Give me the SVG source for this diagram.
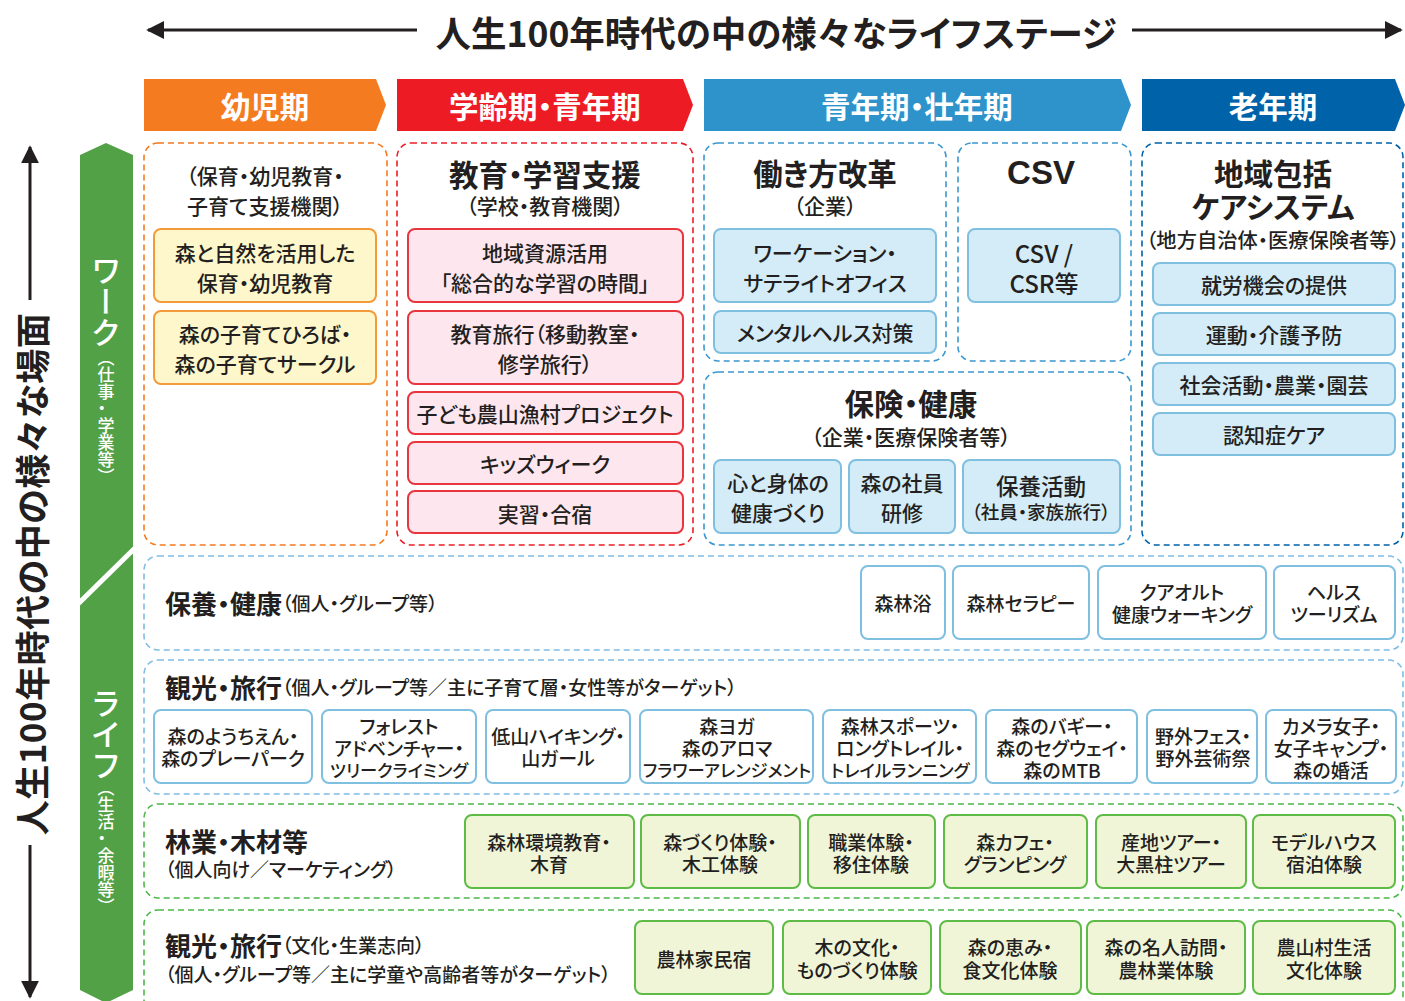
<svg xmlns="http://www.w3.org/2000/svg" width="1405" height="1001" viewBox="0 0 1405 1001">
<style>
text{font-family:"Noto Sans CJK JP","Noto Sans",sans-serif;fill:#231F20;font-feature-settings:"palt";dominant-baseline:central;font-weight:500}
.c{text-anchor:middle}
.b{font-weight:bold}
.w{fill:#fff}
.s21{font-size:21px}
.s19{font-size:19px}
.s26{font-size:26px}
.s29{font-size:29.5px}
.pan{fill:#fff;stroke-width:1.6;stroke-dasharray:6 4}
.po{stroke:#F47B20}
.pr{stroke:#ED1C24}
.pb{stroke:#3A97CF}
.pd{stroke:#0062A8}
.pl{stroke:#7DBDE3}
.pg{stroke:#4CB848}
.bo{fill:#FFF7CC;stroke:#F39A3B;stroke-width:2}
.br{fill:#FDE6EE;stroke:#E8353E;stroke-width:2}
.bb{fill:#D4ECF7;stroke:#7FBFE0;stroke-width:2}
.bw{fill:#fff;stroke:#7FBFE0;stroke-width:2}
.bg{fill:#F1F5D8;stroke:#5DBB46;stroke-width:2}
</style>
<defs>
<marker id="ah" viewBox="0 0 10 10" refX="9" refY="5" markerWidth="6" markerHeight="6" orient="auto-start-reverse" markerUnits="strokeWidth">
<path d="M0,0 L10,5 L0,10 z" fill="#231F20"/>
</marker>
</defs>

<g id="connectors" stroke="#231F20" stroke-width="3" fill="none">
<line x1="417" y1="30" x2="148" y2="30" marker-end="url(#ah)"/>
<line x1="1132" y1="30" x2="1401" y2="30" marker-end="url(#ah)"/>
<line x1="30" y1="300" x2="30" y2="147" marker-end="url(#ah)"/>
<line x1="30" y1="845" x2="30" y2="997" marker-end="url(#ah)"/>
</g>

<g id="title">
<text x="776" y="31" class="c b" style="font-size:35.5px">人生100年時代の中の様々なライフステージ</text>
<text transform="translate(30,574) rotate(-90)" class="c b" style="font-size:35px;letter-spacing:0.5px">人生100年時代の中の様々な場面</text>
</g>

<g id="stage-headers">
<g id="h1"><polygon points="144,79 376,79 386,105 376,131 144,131" fill="#F47B20"/><text x="265" y="105" class="c b w s29">幼児期</text></g>
<g id="h2"><polygon points="397,79 683,79 693,105 683,131 397,131" fill="#ED1C24"/><text x="545" y="105" class="c b w s29">学齢期・青年期</text></g>
<g id="h3"><polygon points="704,79 1121,79 1131,105 1121,131 704,131" fill="#2E93CB"/><text x="917" y="105" class="c b w s29">青年期・壮年期</text></g>
<g id="h4"><polygon points="1142,79 1395,79 1405,105 1395,131 1142,131" fill="#0062A8"/><text x="1273" y="105" class="c b w s29">老年期</text></g>
</g>

<g id="side-bar">
<polygon points="80,155 106,143 133,155 133,990 106,1003 80,990" fill="#52A146"/>
<line x1="78" y1="604" x2="135" y2="548" stroke="#fff" stroke-width="5"/>
<text x="106" y="255" class="w" style="font-size:31px;writing-mode:vertical-rl;dominant-baseline:auto">ワーク</text>
<text x="106" y="349" class="w" style="font-size:17px;writing-mode:vertical-rl;dominant-baseline:auto">（仕事・学業等）</text>
<text x="106" y="688" class="w" style="font-size:31px;writing-mode:vertical-rl;dominant-baseline:auto">ライフ</text>
<text x="106" y="779" class="w" style="font-size:17px;writing-mode:vertical-rl;dominant-baseline:auto">（生活・余暇等）</text>
</g>

<g id="p-youji">
<rect x="144" y="143" width="243" height="402" rx="14" class="pan po"/>
<text x="265" y="175" class="c s21">（保育・幼児教育・</text>
<text x="265" y="205" class="c s21">子育て支援機関）</text>
<rect x="154" y="229" width="222" height="73" rx="7" class="bo"/>
<text x="265" y="252" class="c s21">森と自然を活用した</text>
<text x="265" y="282" class="c s21">保育・幼児教育</text>
<rect x="154" y="311" width="222" height="73" rx="7" class="bo"/>
<text x="265" y="333" class="c s21">森の子育てひろば・</text>
<text x="265" y="363" class="c s21">森の子育てサークル</text>
</g>

<g id="p-kyoiku">
<rect x="397" y="143" width="296" height="402" rx="14" class="pan pr"/>
<text x="545" y="173" class="c b s29">教育・学習支援</text>
<text x="545" y="205" class="c s21">（学校・教育機関）</text>
<rect x="408" y="229" width="275" height="73" rx="7" class="br"/>
<text x="545" y="252" class="c s21">地域資源活用</text>
<text x="545" y="282" class="c s21">「総合的な学習の時間」</text>
<rect x="408" y="311" width="275" height="73" rx="7" class="br"/>
<text x="545" y="333" class="c s21">教育旅行（移動教室・</text>
<text x="545" y="363" class="c s21">修学旅行）</text>
<rect x="408" y="392" width="275" height="42" rx="7" class="br"/>
<text x="545" y="413" class="c s21">子ども農山漁村プロジェクト</text>
<rect x="408" y="442" width="275" height="42" rx="7" class="br"/>
<text x="545" y="463" class="c s21">キッズウィーク</text>
<rect x="408" y="491" width="275" height="42" rx="7" class="br"/>
<text x="545" y="513" class="c s21">実習・合宿</text>
</g>

<g id="p-hatarakikata">
<rect x="704" y="143" width="242" height="218" rx="14" class="pan pb"/>
<text x="825" y="172" class="c b s29">働き方改革</text>
<text x="825" y="205" class="c s21">（企業）</text>
<rect x="714" y="229" width="222" height="73" rx="7" class="bb"/>
<text x="825" y="252" class="c s21">ワーケーション・</text>
<text x="825" y="282" class="c s21">サテライトオフィス</text>
<rect x="714" y="311" width="222" height="42" rx="7" class="bb"/>
<text x="825" y="332" class="c s21">メンタルヘルス対策</text>
</g>

<g id="p-csv">
<rect x="958" y="143" width="173" height="218" rx="14" class="pan pb"/>
<text x="1041" y="172" class="c b" style="font-family:'Liberation Sans',Arial,sans-serif;font-size:33px">CSV</text>
<rect x="968" y="229" width="152" height="73" rx="7" class="bb"/>
<text x="1044" y="252" class="c" style="font-size:24px">CSV /</text>
<text x="1044" y="282" class="c" style="font-size:24px">CSR等</text>
</g>

<g id="p-hoken">
<rect x="704" y="372" width="427" height="173" rx="14" class="pan pb"/>
<text x="911" y="402" class="c b s29">保険・健康</text>
<text x="911" y="436" class="c s21">（企業・医療保険者等）</text>
<rect x="714" y="460" width="127" height="73" rx="7" class="bb"/>
<text x="778" y="482" class="c s21">心と身体の</text>
<text x="778" y="512" class="c s21">健康づくり</text>
<rect x="849" y="460" width="106" height="73" rx="7" class="bb"/>
<text x="902" y="482" class="c s21">森の社員</text>
<text x="902" y="512" class="c s21">研修</text>
<rect x="963" y="460" width="157" height="73" rx="7" class="bb"/>
<text x="1041" y="485" class="c" style="font-size:22.5px">保養活動</text>
<text x="1041" y="511" class="c" style="font-size:18.5px">（社員・家族旅行）</text>
</g>

<g id="p-chiiki">
<rect x="1142" y="143" width="261" height="402" rx="14" class="pan pd"/>
<text x="1273" y="172" class="c b s29">地域包括</text>
<text x="1273" y="205" class="c b s29">ケアシステム</text>
<text x="1273" y="239" class="c" style="font-size:20.3px">（地方自治体・医療保険者等）</text>
<rect x="1153" y="263" width="242" height="42" rx="7" class="bb"/>
<text x="1274" y="284" class="c s21">就労機会の提供</text>
<rect x="1153" y="313" width="242" height="42" rx="7" class="bb"/>
<text x="1274" y="334" class="c s21">運動・介護予防</text>
<rect x="1153" y="363" width="242" height="42" rx="7" class="bb"/>
<text x="1274" y="384" class="c s21">社会活動・農業・園芸</text>
<rect x="1153" y="413" width="242" height="42" rx="7" class="bb"/>
<text x="1274" y="434" class="c s21">認知症ケア</text>
</g>

<g id="p-hoyo">
<rect x="144" y="556" width="1259" height="94" rx="14" class="pan pl"/>
<text x="165" y="602"><tspan class="b s26">保養・健康</tspan><tspan class="s19">（個人・グループ等）</tspan></text>
<rect x="861" y="566" width="84" height="73" rx="7" class="bw"/>
<text x="903" y="602" class="c s19">森林浴</text>
<rect x="953" y="566" width="136" height="73" rx="7" class="bw"/>
<text x="1021" y="602" class="c s19">森林セラピー</text>
<rect x="1098" y="566" width="168" height="73" rx="7" class="bw"/>
<text x="1182" y="591" class="c s19">クアオルト</text>
<text x="1182" y="613" class="c s19">健康ウォーキング</text>
<rect x="1274" y="566" width="121" height="73" rx="7" class="bw"/>
<text x="1334" y="591" class="c s19">ヘルス</text>
<text x="1334" y="613" class="c s19">ツーリズム</text>
</g>

<g id="p-kanko1">
<rect x="144" y="660" width="1259" height="134" rx="14" class="pan pl"/>
<text x="165" y="686"><tspan class="b s26">観光・旅行</tspan><tspan class="s19">（個人・グループ等／主に子育て層・女性等がターゲット）</tspan></text>
<rect x="154" y="710" width="158" height="73" rx="7" class="bw"/>
<text x="233" y="735" class="c s19">森のようちえん・</text>
<text x="233" y="757" class="c s19">森のプレーパーク</text>
<rect x="322" y="710" width="154" height="73" rx="7" class="bw"/>
<text x="399" y="725" class="c s19">フォレスト</text>
<text x="399" y="747" class="c s19">アドベンチャー・</text>
<text x="399" y="769" class="c" style="font-size:17.3px">ツリークライミング</text>
<rect x="486" y="710" width="144" height="73" rx="7" class="bw"/>
<text x="558" y="735" class="c s19">低山ハイキング・</text>
<text x="558" y="757" class="c s19">山ガール</text>
<rect x="640" y="710" width="173" height="73" rx="7" class="bw"/>
<text x="727" y="725" class="c s19">森ヨガ</text>
<text x="727" y="747" class="c s19">森のアロマ</text>
<text x="727" y="769" class="c" style="font-size:17.3px">フラワーアレンジメント</text>
<rect x="823" y="710" width="153" height="73" rx="7" class="bw"/>
<text x="900" y="725" class="c s19">森林スポーツ・</text>
<text x="900" y="747" class="c s19">ロングトレイル・</text>
<text x="900" y="769" class="c" style="font-size:17.5px">トレイルランニング</text>
<rect x="986" y="710" width="151" height="73" rx="7" class="bw"/>
<text x="1062" y="725" class="c s19">森のバギー・</text>
<text x="1062" y="747" class="c s19">森のセグウェイ・</text>
<text x="1062" y="769" class="c s19">森のMTB</text>
<rect x="1147" y="710" width="110" height="73" rx="7" class="bw"/>
<text x="1203" y="735" class="c s19">野外フェス・</text>
<text x="1203" y="757" class="c s19">野外芸術祭</text>
<rect x="1266" y="710" width="130" height="73" rx="7" class="bw"/>
<text x="1331" y="725" class="c s19">カメラ女子・</text>
<text x="1331" y="747" class="c s19">女子キャンプ・</text>
<text x="1331" y="769" class="c s19">森の婚活</text>
</g>

<g id="p-ringyo">
<rect x="144" y="804" width="1259" height="94" rx="14" class="pan pg"/>
<text x="165" y="840" class="b s26">林業・木材等</text>
<text x="165" y="868" class="s19">（個人向け／マーケティング）</text>
<rect x="465" y="815" width="169" height="73" rx="7" class="bg"/>
<text x="549" y="841" class="c s19">森林環境教育・</text>
<text x="549" y="863" class="c s19">木育</text>
<rect x="641" y="815" width="159" height="73" rx="7" class="bg"/>
<text x="720" y="841" class="c s19">森づくり体験・</text>
<text x="720" y="863" class="c s19">木工体験</text>
<rect x="808" y="815" width="127" height="73" rx="7" class="bg"/>
<text x="871" y="841" class="c s19">職業体験・</text>
<text x="871" y="863" class="c s19">移住体験</text>
<rect x="944" y="815" width="143" height="73" rx="7" class="bg"/>
<text x="1015" y="841" class="c s19">森カフェ・</text>
<text x="1015" y="863" class="c s19">グランピング</text>
<rect x="1096" y="815" width="150" height="73" rx="7" class="bg"/>
<text x="1171" y="841" class="c s19">産地ツアー・</text>
<text x="1171" y="863" class="c s19">大黒柱ツアー</text>
<rect x="1253" y="815" width="142" height="73" rx="7" class="bg"/>
<text x="1324" y="841" class="c s19">モデルハウス</text>
<text x="1324" y="863" class="c s19">宿泊体験</text>
</g>

<g id="p-kanko2">
<rect x="144" y="910" width="1259" height="105" rx="14" class="pan pg"/>
<text x="165" y="944"><tspan class="b s26">観光・旅行</tspan><tspan class="s19">（文化・生業志向）</tspan></text>
<text x="165" y="973" class="s19">（個人・グループ等／主に学童や高齢者等がターゲット）</text>
<rect x="635" y="921" width="138" height="73" rx="7" class="bg"/>
<text x="704" y="958" class="c s19">農林家民宿</text>
<rect x="783" y="921" width="148" height="73" rx="7" class="bg"/>
<text x="857" y="946" class="c s19">木の文化・</text>
<text x="857" y="969" class="c s19">ものづくり体験</text>
<rect x="940" y="921" width="141" height="73" rx="7" class="bg"/>
<text x="1010" y="946" class="c s19">森の恵み・</text>
<text x="1010" y="969" class="c s19">食文化体験</text>
<rect x="1087" y="921" width="158" height="73" rx="7" class="bg"/>
<text x="1166" y="946" class="c s19">森の名人訪問・</text>
<text x="1166" y="969" class="c s19">農林業体験</text>
<rect x="1253" y="921" width="142" height="73" rx="7" class="bg"/>
<text x="1324" y="946" class="c s19">農山村生活</text>
<text x="1324" y="969" class="c s19">文化体験</text>
</g>
</svg>
